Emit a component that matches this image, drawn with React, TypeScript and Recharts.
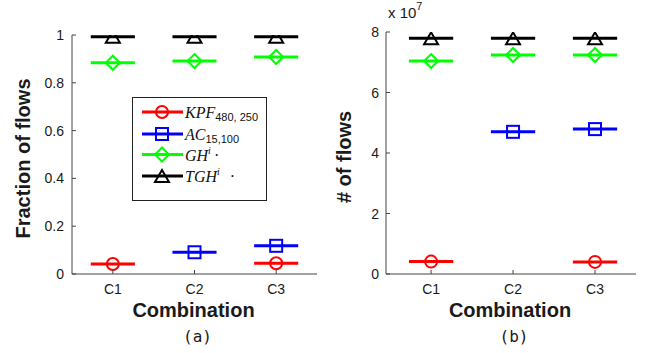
import React from 'react';
import { ComposedChart, Line, XAxis, YAxis, Label, Legend } from 'recharts';

const categories = ['C1', 'C2', 'C3'];

// (a) fraction of flows
const fracKPF = [0.042, null, 0.045];
const fracAC = [null, 0.091, 0.118];
const fracGH = [0.884, 0.891, 0.908];
const fracTGH = [0.993, 0.993, 0.993];

// (b) number of flows
const countKPF = [0.41e7, null, 0.4e7];
const countAC = [null, 4.7e7, 4.79e7];
const countGH = [7.04e7, 7.24e7, 7.24e7];
const countTGH = [7.79e7, 7.79e7, 7.79e7];

const fracTicks = [0, 0.2, 0.4, 0.6, 0.8, 1];
const countTicks = [0, 2e7, 4e7, 6e7, 8e7];

const HALF = 0.27;
const SANS = 'Liberation Sans, Arial, sans-serif';
const SERIF = 'Liberation Serif, Times New Roman, serif';
const TXT = '#1a1a1a';
const AXIS = '#444';

const series = [
  { key: 'kpf', color: '#ff0000', marker: 'circle' },
  { key: 'ac', color: '#0000ff', marker: 'square' },
  { key: 'gh', color: '#00ff00', marker: 'diamond' },
  { key: 'tgh', color: '#000000', marker: 'triangle' },
];

function segments(vals: (number | null)[]) {
  const out: any[] = [];
  vals.forEach((v, i) => {
    if (v == null) return;
    const c = i + 1;
    out.push({ x: c - HALF, y: v }, { x: c, y: v, mid: true }, { x: c + HALF, y: v }, { x: c + 0.5, y: null });
  });
  return out;
}

function Marker({ type, cx, cy, color }: any) {
  const common = { fill: 'none', stroke: color, strokeWidth: 2 };
  if (type === 'circle') return <circle cx={cx} cy={cy} r={6} {...common} />;
  if (type === 'square') return <rect x={cx - 6} y={cy - 6} width={12} height={12} {...common} />;
  if (type === 'diamond')
    return <polygon points={`${cx},${cy - 7} ${cx + 7},${cy} ${cx},${cy + 7} ${cx - 7},${cy}`} {...common} />;
  return <polygon points={`${cx},${cy - 6} ${cx + 7},${cy + 6} ${cx - 7},${cy + 6}`} {...common} />;
}

const makeDot = (type: string, color: string) => (p: any) => {
  if (!p.payload || !p.payload.mid) return <g key={p.index} />;
  return (
    <g key={p.index}>
      <Marker type={type} cx={p.cx} cy={p.cy} color={color} />
    </g>
  );
};

const YTick = (fmt: (v: number) => string, gap: number) => (p: any) => {
  const { x, y, payload } = p;
  return (
    <g>
      <line x1={x} x2={x + 4} y1={y} y2={y} stroke={AXIS} />
      <text x={x - gap} y={y} dy="0.36em" textAnchor="end" fontSize={14} fontFamily={SANS} fill={TXT}>
        {fmt(payload.value)}
      </text>
    </g>
  );
};

const XTick = (p: any) => {
  const { x, y, payload } = p;
  return (
    <g>
      <line x1={x} x2={x} y1={y} y2={y - 4} stroke={AXIS} />
      <text x={x} y={y + 20} textAnchor="middle" fontSize={14} fontFamily={SANS} fill={TXT}>
        {categories[payload.value - 1]}
      </text>
    </g>
  );
};

function yTitle(text: string, dx: number) {
  return (props: any) => {
    const vb = props.viewBox;
    const cx = vb.x + vb.width + dx;
    const cy = vb.y + vb.height / 2 + 4;
    return (
      <text
        x={cx}
        y={cy}
        transform={`rotate(-90 ${cx} ${cy})`}
        textAnchor="middle"
        dominantBaseline="central"
        fontSize={20}
        fontWeight="bold"
        fontFamily={SANS}
        fill={TXT}
      >
        {text}
      </text>
    );
  };
}

function xTitle(caption: string) {
  return (props: any) => {
    const vb = props.viewBox;
    const cx = vb.x + vb.width / 2 - 1;
    return (
      <g>
        <text x={cx} y={vb.y + 43} textAnchor="middle" fontSize={20} fontWeight="bold" fontFamily={SANS} fill={TXT}>
          Combination
        </text>
        <text
          x={cx + 4}
          y={vb.y + 68}
          textAnchor="middle"
          fontSize={16}
          fontFamily="DejaVu Sans Mono, monospace"
          fill={TXT}
        >
          {caption}
        </text>
      </g>
    );
  };
}

const multiplier = (props: any) => {
  const vb = props.viewBox;
  const x = vb.x + vb.width + 2;
  return (
    <text x={x} y={18} fontSize={15} fontFamily={SANS} fill={TXT}>
      x 10
      <tspan fontSize={11} dy={-8}>
        7
      </tspan>
    </text>
  );
};

const legendRows = [
  { s: series[0], main: 'KPF', sub: '480, 250', sup: '', y: 15 },
  { s: series[1], main: 'AC', sub: '15,100', sup: '', y: 37 },
  { s: series[2], main: 'GH', sub: '', sup: 'i', y: 57.5 },
  { s: series[3], main: 'TGH', sub: '', sup: 'i', y: 79 },
];

const LegendBox = () => (
  <svg width={135} height={104} style={{ display: 'block' }}>
    <rect x={0.5} y={0.5} width={134} height={103} fill="#fff" stroke="#222" />
    {legendRows.map((r) => (
      <g key={r.s.key}>
        <line x1={10} x2={51} y1={r.y} y2={r.y} stroke={r.s.color} strokeWidth={3} />
        <Marker type={r.s.marker} cx={30} cy={r.y} color={r.s.color} />
        <text x={53} y={r.y + 6} fontSize={16} fontStyle="italic" fontFamily={SERIF} fill="#111">
          {r.main}
          {r.sub && (
            <tspan fontSize={11} fontStyle="normal" fontFamily={SANS} dy={3}>
              {r.sub}
            </tspan>
          )}
          {r.sup && (
            <tspan fontSize={10} dy={-7}>
              {r.sup}
            </tspan>
          )}
          {r.sup && (
            <tspan fontStyle="normal" dy={7} dx={r.main === 'TGH' ? 10 : 3}>
              ·
            </tspan>
          )}
        </text>
      </g>
    ))}
  </svg>
);

function Panel({ vals, domainX, domainY, ticks, fmt, gap, title, titleDx, caption, width, margin, legend, mult }: any) {
  return (
    <ComposedChart width={width} height={353} margin={margin}>
      <XAxis
        type="number"
        dataKey="x"
        domain={domainX}
        ticks={[1, 2, 3]}
        allowDataOverflow
        height={30}
        tickSize={0}
        tickMargin={0}
        tickLine={false}
        tick={XTick}
        axisLine={{ stroke: AXIS }}
      >
        <Label content={xTitle(caption)} />
      </XAxis>
      <YAxis
        type="number"
        domain={domainY}
        ticks={ticks}
        allowDataOverflow
        width={40}
        tickSize={0}
        tickMargin={0}
        tickLine={false}
        tick={YTick(fmt, gap)}
        axisLine={{ stroke: AXIS }}
      >
        <Label content={yTitle(title, titleDx)} />
        {mult && <Label content={multiplier} />}
      </YAxis>
      {series.map((s, i) => (
        <Line
          key={s.key}
          data={segments(vals[i])}
          dataKey="y"
          stroke={s.color}
          strokeWidth={3}
          dot={makeDot(s.marker, s.color)}
          activeDot={false}
          isAnimationActive={false}
          connectNulls={false}
        />
      ))}
      {legend && (
        <Legend
          layout="vertical"
          align="center"
          verticalAlign="middle"
          content={LegendBox}
          wrapperStyle={{ position: 'absolute', left: 132, top: 97, width: 135, height: 104 }}
        />
      )}
    </ComposedChart>
  );
}

export default function App() {
  return (
    <div style={{ position: 'absolute', left: 0, top: 0, width: 646, height: 353, background: '#fff', display: 'flex' }}>
      <Panel
        vals={[fracKPF, fracAC, fracGH, fracTGH]}
        domainX={[0.5, 3.5]}
        domainY={[0, 1]}
        ticks={fracTicks}
        fmt={(v: number) => String(v)}
        gap={8}
        title="Fraction of flows"
        titleDx={-49}
        caption="(a)"
        width={330}
        margin={{ top: 35, right: 13, left: 32, bottom: 49 }}
        legend
      />
      <Panel
        vals={[countKPF, countAC, countGH, countTGH]}
        domainX={[0.45, 3.5]}
        domainY={[0, 8e7]}
        ticks={countTicks}
        fmt={(v: number) => String(v / 1e7)}
        gap={7}
        title="# of flows"
        titleDx={-42}
        caption="(b)"
        width={316}
        margin={{ top: 32, right: 10, left: 16, bottom: 49 }}
        mult
      />
    </div>
  );
}
